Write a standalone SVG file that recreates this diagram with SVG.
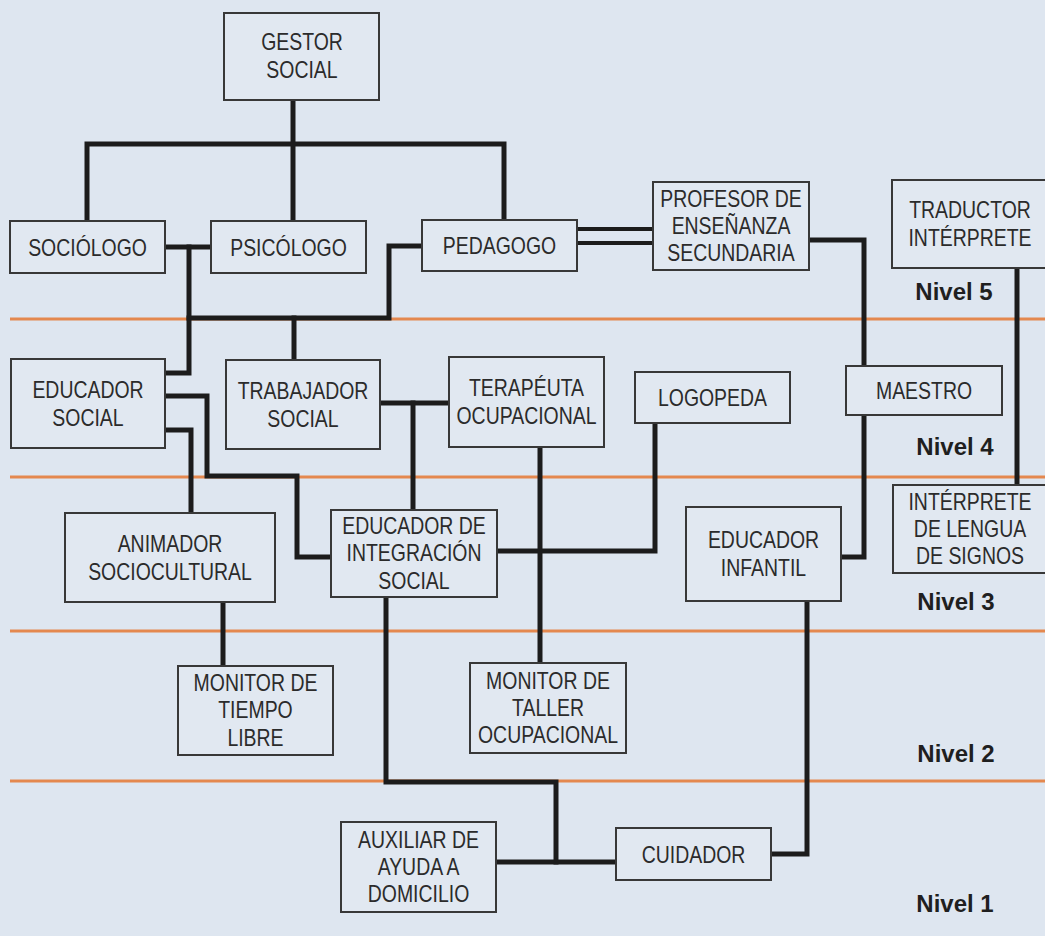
<svg xmlns="http://www.w3.org/2000/svg" width="1045" height="936" viewBox="0 0 1045 936">
<style>
.bg{fill:#dee6f0}
.box{fill:#e1e8f1;stroke:#383838;stroke-width:2}
.t{font-family:"Liberation Sans",Arial,Helvetica,sans-serif;font-size:24px;fill:#2b2b2b;text-anchor:middle}
.lvl{font-family:"Liberation Sans",Arial,Helvetica,sans-serif;font-size:24px;font-weight:bold;fill:#1f1f1f;text-anchor:middle}
.or{stroke:#e4884f;stroke-width:3;fill:none}
.c{stroke:#1c1c1c;stroke-width:5;fill:none;stroke-linejoin:miter;stroke-linecap:square}
.c2{stroke:#1c1c1c;stroke-width:4;fill:none}
</style>
<rect class="bg" x="0" y="0" width="1045" height="936"/>
<g id="levels">
<line class="or" x1="10" y1="319" x2="1045" y2="319"/>
<line class="or" x1="10" y1="477" x2="1045" y2="477"/>
<line class="or" x1="10" y1="631" x2="1045" y2="631"/>
<line class="or" x1="10" y1="781" x2="1045" y2="781"/>
<text class="lvl" x="954" y="300">Nivel 5</text>
<text class="lvl" x="955" y="455">Nivel 4</text>
<text class="lvl" x="956" y="610">Nivel 3</text>
<text class="lvl" x="956" y="762">Nivel 2</text>
<text class="lvl" x="955" y="912">Nivel 1</text>
</g>
<g id="connectors">
<path class="c" d="M293,100 V221"/>
<path class="c" d="M87,221 V144 H504 V220"/>
<path class="c" d="M165,247 H211"/>
<path class="c" d="M189,247 V373 H165"/>
<path class="c" d="M189,318 H389 V246 H422"/>
<path class="c" d="M294,318 V360"/>
<path class="c2" d="M577,229 H653 M577,243 H653"/>
<path class="c" d="M809,240 H864 V366"/>
<path class="c" d="M864,415 V557 H841"/>
<path class="c" d="M1017,268 V485"/>
<path class="c" d="M165,396 H207 V476 H297 V557 H331"/>
<path class="c" d="M165,430 H191 V513"/>
<path class="c" d="M380,403 H449"/>
<path class="c" d="M413,403 V510"/>
<path class="c" d="M540,447 V663"/>
<path class="c" d="M655,423 V551 H497"/>
<path class="c" d="M223,602 V666"/>
<path class="c" d="M386,597 V782 H556 V862"/>
<path class="c" d="M496,862 H616"/>
<path class="c" d="M807,601 V854 H771"/>
</g>
<g id="gestor-social"><rect class="box" x="224" y="13" width="155" height="87"/>
<text class="t" transform="translate(302,50) scale(0.81,1)"><tspan x="0">GESTOR</tspan><tspan x="0" dy="28.5">SOCIAL</tspan></text></g>
<g id="sociologo"><rect class="box" x="10" y="221" width="155" height="52"/>
<text class="t" transform="translate(87.5,255.5) scale(0.81,1)">SOCIÓLOGO</text></g>
<g id="psicologo"><rect class="box" x="211" y="221" width="155" height="52"/>
<text class="t" transform="translate(288.5,255.5) scale(0.81,1)">PSICÓLOGO</text></g>
<g id="pedagogo"><rect class="box" x="422" y="220" width="155" height="51"/>
<text class="t" transform="translate(499.5,254) scale(0.81,1)">PEDAGOGO</text></g>
<g id="profesor"><rect class="box" x="653" y="182" width="156" height="88"/>
<text class="t" transform="translate(731,206.5) scale(0.81,1)"><tspan x="0">PROFESOR DE</tspan><tspan x="0" dy="27.5">ENSEÑANZA</tspan><tspan x="0" dy="27.5">SECUNDARIA</tspan></text></g>
<g id="traductor"><rect class="box" x="892" y="180" width="160" height="88"/>
<text class="t" transform="translate(970,218) scale(0.81,1)"><tspan x="0">TRADUCTOR</tspan><tspan x="0" dy="28.5">INTÉRPRETE</tspan></text></g>
<g id="educador-social"><rect class="box" x="11" y="359" width="154" height="89"/>
<text class="t" transform="translate(88,397.5) scale(0.81,1)"><tspan x="0">EDUCADOR</tspan><tspan x="0" dy="28.5">SOCIAL</tspan></text></g>
<g id="trabajador-social"><rect class="box" x="226" y="360" width="154" height="89"/>
<text class="t" transform="translate(303,398.5) scale(0.81,1)"><tspan x="0">TRABAJADOR</tspan><tspan x="0" dy="28.5">SOCIAL</tspan></text></g>
<g id="terapeuta"><rect class="box" x="449" y="357" width="155" height="90"/>
<text class="t" transform="translate(526.5,396) scale(0.81,1)"><tspan x="0">TERAPÉUTA</tspan><tspan x="0" dy="28.5">OCUPACIONAL</tspan></text></g>
<g id="logopeda"><rect class="box" x="635" y="372" width="155" height="51"/>
<text class="t" transform="translate(712.5,406) scale(0.81,1)">LOGOPEDA</text></g>
<g id="maestro"><rect class="box" x="846" y="366" width="156" height="49"/>
<text class="t" transform="translate(924,399) scale(0.81,1)">MAESTRO</text></g>
<g id="animador"><rect class="box" x="65" y="513" width="210" height="89"/>
<text class="t" transform="translate(170,551.5) scale(0.81,1)"><tspan x="0">ANIMADOR</tspan><tspan x="0" dy="28.5">SOCIOCULTURAL</tspan></text></g>
<g id="educador-integracion"><rect class="box" x="331" y="510" width="166" height="87"/>
<text class="t" transform="translate(414,534) scale(0.81,1)"><tspan x="0">EDUCADOR DE</tspan><tspan x="0" dy="27.5">INTEGRACIÓN</tspan><tspan x="0" dy="27.5">SOCIAL</tspan></text></g>
<g id="educador-infantil"><rect class="box" x="686" y="507" width="155" height="94"/>
<text class="t" transform="translate(763.5,548) scale(0.81,1)"><tspan x="0">EDUCADOR</tspan><tspan x="0" dy="28.5">INFANTIL</tspan></text></g>
<g id="interprete-signos"><rect class="box" x="893" y="485" width="160" height="88"/>
<text class="t" transform="translate(970,509.5) scale(0.81,1)"><tspan x="0">INTÉRPRETE</tspan><tspan x="0" dy="27.5">DE LENGUA</tspan><tspan x="0" dy="27.5">DE SIGNOS</tspan></text></g>
<g id="monitor-tiempo"><rect class="box" x="178" y="666" width="155" height="89"/>
<text class="t" transform="translate(255.5,691) scale(0.81,1)"><tspan x="0">MONITOR DE</tspan><tspan x="0" dy="27.5">TIEMPO</tspan><tspan x="0" dy="27.5">LIBRE</tspan></text></g>
<g id="monitor-taller"><rect class="box" x="470" y="663" width="156" height="90"/>
<text class="t" transform="translate(548,688.5) scale(0.81,1)"><tspan x="0">MONITOR DE</tspan><tspan x="0" dy="27.5">TALLER</tspan><tspan x="0" dy="27.5">OCUPACIONAL</tspan></text></g>
<g id="auxiliar"><rect class="box" x="341" y="822" width="155" height="90"/>
<text class="t" transform="translate(418.5,847.5) scale(0.81,1)"><tspan x="0">AUXILIAR DE</tspan><tspan x="0" dy="27.5">AYUDA A</tspan><tspan x="0" dy="27.5">DOMICILIO</tspan></text></g>
<g id="cuidador"><rect class="box" x="616" y="828" width="155" height="52"/>
<text class="t" transform="translate(693.5,862.5) scale(0.81,1)">CUIDADOR</text></g>
</svg>
